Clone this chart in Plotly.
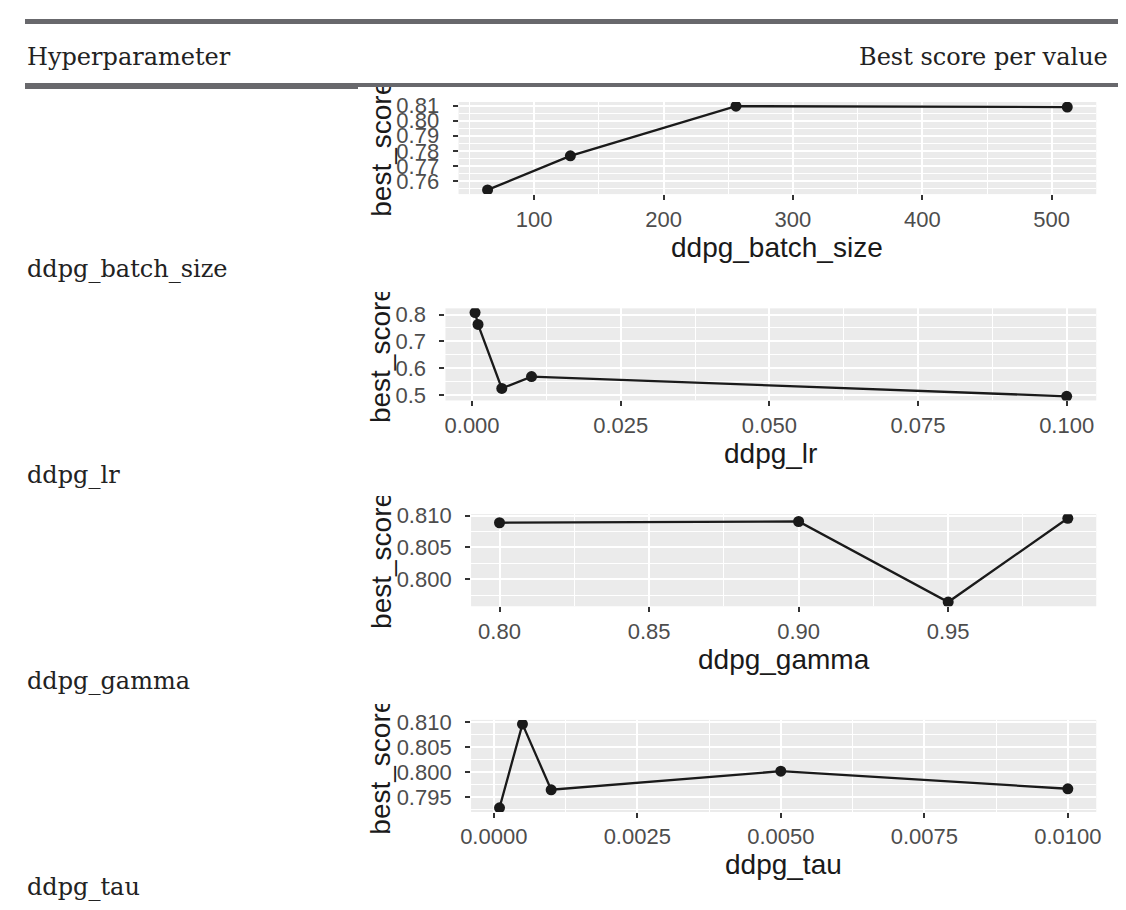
import plotly.graph_objects as go

# best score reached for each tried value of a hyperparameter
batch_size = [64, 128, 256, 512]
batch_size_score = [0.7541, 0.7767, 0.8096, 0.8090]

lr = [0.0005, 0.001, 0.005, 0.01, 0.1]
lr_score = [0.8074, 0.7632, 0.5246, 0.5687, 0.4952]

gamma = [0.80, 0.90, 0.95, 0.99]
gamma_score = [0.8089, 0.8091, 0.7964, 0.8096]

tau = [0.0001, 0.0005, 0.001, 0.005, 0.01]
tau_score = [0.7929, 0.8096, 0.7965, 0.8002, 0.7967]

# ticks on each small plot
batch_size_xticks = [100, 200, 300, 400, 500]
batch_size_yticks = [0.76, 0.77, 0.78, 0.79, 0.80, 0.81]
lr_xticks = [0.0, 0.025, 0.05, 0.075, 0.1]
lr_yticks = [0.5, 0.6, 0.7, 0.8]
gamma_xticks = [0.80, 0.85, 0.90, 0.95]
gamma_yticks = [0.800, 0.805, 0.810]
tau_xticks = [0.0, 0.0025, 0.005, 0.0075, 0.01]
tau_yticks = [0.795, 0.800, 0.805, 0.810]

row_names = ["ddpg_batch_size", "ddpg_lr", "ddpg_gamma", "ddpg_tau"]
header = ["Hyperparameter", "Best score per value"]

# page body has an 8px margin, so the figure is 16px smaller than the window
OFF = 8
W, H = 1126 - 2 * OFF, 910 - 2 * OFF
def px_x(v):
    return (v - OFF) / W
def px_y(v):
    return 1 - (v - OFF) / H

def expand(vals):
    # ggplot default 5% padding
    lo, hi = min(vals), max(vals)
    pad = (hi - lo) * 0.05
    return [lo - pad, hi + pad]

# (x, y, xticks, xfmt, yticks, yfmt, panel left, panel top, image top, row label y)
panels = [
    (batch_size, batch_size_score, batch_size_xticks, "d", batch_size_yticks, ".2f", 454, 92.7, 77, 263.5),
    (lr, lr_score, lr_xticks, ".3f", lr_yticks, ".1f", 440.7, 303.3, 287, 473.5),
    (gamma, gamma_score, gamma_xticks, ".2f", gamma_yticks, ".3f", 466.7, 513.3, 495, 683.5),
    (tau, tau_score, tau_xticks, ".4f", tau_yticks, ".3f", 466.7, 723.3, 707, 893.5),
]
panel_right = 1101
panel_h = 94

ax_font = dict(family="Liberation Sans, Arial", size=22, color="#4D4D4D")
title_font = dict(family="Liberation Sans, Arial", size=28, color="#1a1a1a")
serif = dict(family="DejaVu Serif", size=24, color="#222222")
rule_color = "#68686c"

fig = go.Figure()
layout = dict(
    width=W, height=H, autosize=False,
    margin=dict(l=0, r=0, t=0, b=0),
    paper_bgcolor="white", plot_bgcolor="#EBEBEB",
    showlegend=False,
)
titles = []
clips = []

for i, (xs, ys, xt, xf, yt, yf, left, top, img_top, row_y) in enumerate(panels):
    n = "" if i == 0 else str(i + 1)
    fig.add_trace(go.Scatter(
        x=xs, y=ys, mode="lines+markers",
        line=dict(color="#1a1a1a", width=2.3),
        marker=dict(color="#1a1a1a", size=11),
        xaxis="x" + n, yaxis="y" + n,
    ))
    bottom = top + panel_h
    common = dict(
        showline=False, zeroline=False, showgrid=True,
        gridcolor="white", gridwidth=2,
        ticks="outside", ticklen=5, tickwidth=2, tickcolor="#333333",
        tickfont=ax_font,
    )
    layout["xaxis" + n] = dict(
        common, domain=[px_x(left), px_x(panel_right)], anchor="y" + n,
        range=expand(xs), tickmode="array", tickvals=xt, tickformat=xf,
        minor=dict(tick0=xt[0], dtick=(xt[1] - xt[0]) / 2, showgrid=True,
                   gridcolor="white", gridwidth=1),
    )
    layout["yaxis" + n] = dict(
        common, domain=[px_y(bottom), px_y(top)], anchor="x" + n,
        range=expand(ys), tickmode="array", tickvals=yt, tickformat=yf,
        ticklabelstandoff=9,
        minor=dict(tick0=yt[0], dtick=(yt[1] - yt[0]) / 2, showgrid=True,
                   gridcolor="white", gridwidth=1),
    )
    # axis titles
    titles.append(dict(
        text=row_names[i], x=px_x((left + panel_right) / 2), y=px_y(bottom + 54),
        xref="paper", yref="paper", xanchor="center", yanchor="middle",
        showarrow=False, font=title_font,
    ))
    titles.append(dict(
        text="best_score", x=px_x(375), y=px_y(top + panel_h / 2),
        xref="paper", yref="paper", xanchor="center", yanchor="middle",
        textangle=-90, showarrow=False, font=title_font,
    ))
    # the plot image is cut at its top edge
    clips.append(dict(
        text=" ", x=px_x(352), y=px_y(img_top), xref="paper", yref="paper",
        xanchor="left", yanchor="bottom", width=50, height=24,
        bgcolor="white", borderpad=0, borderwidth=0, showarrow=False,
        font=dict(size=1),
    ))
    # row label
    titles.append(dict(
        text=row_names[i], x=px_x(14), y=px_y(row_y),
        xref="paper", yref="paper", xanchor="left", yanchor="middle",
        showarrow=False, font=serif,
    ))

def rule(x0, x1, y0, h):
    return dict(
        text=" ", x=px_x(x0), y=px_y(y0), xref="paper", yref="paper",
        xanchor="left", yanchor="top", width=x1 - x0, height=h,
        bgcolor=rule_color, borderpad=0, borderwidth=0, showarrow=False,
        font=dict(size=1),
    )

rules = [rule(14, 1115, 8, 5), rule(14, 1115, 73, 4), rule(14, 347, 73, 6)]

head = [
    dict(text=header[0], x=px_x(14), y=px_y(46.6), xref="paper", yref="paper",
         xanchor="left", yanchor="middle", showarrow=False, font=serif),
    dict(text=header[1], x=px_x(1115), y=px_y(46.6), xref="paper", yref="paper",
         xanchor="right", yanchor="middle", showarrow=False, font=serif),
]

layout["annotations"] = titles + clips + rules + head
fig.update_layout(**layout)
fig.write_html("out.html")
